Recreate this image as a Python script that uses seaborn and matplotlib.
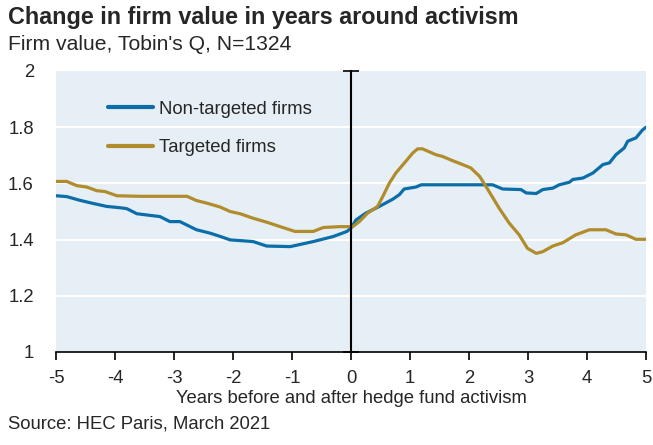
import numpy as np
import pandas as pd
import seaborn as sns
import matplotlib
matplotlib.use("Agg")
import matplotlib.pyplot as plt

# Tobin's Q around the activism event (year 0)
nontargeted_years = [-5.0, -4.82, -4.6, -4.4, -4.14, -3.9, -3.80, -3.63, -3.4, -3.24, -3.07,
                     -2.90, -2.62, -2.39, -2.2, -2.05, -1.66, -1.43, -1.03, -0.64, -0.30,
                     -0.07, 0.0, 0.085, 0.25, 0.48, 0.71, 0.82, 0.90, 1.10, 1.19, 1.5, 2.0,
                     2.40, 2.57, 2.88, 2.97, 3.14, 3.25, 3.42, 3.53, 3.70, 3.76, 3.93, 4.10,
                     4.27, 4.38, 4.49, 4.63, 4.69, 4.83, 4.94, 5.0]
nontargeted_q = [1.556, 1.553, 1.540, 1.530, 1.518, 1.513, 1.510, 1.492, 1.486, 1.482, 1.464,
                 1.464, 1.435, 1.423, 1.410, 1.399, 1.393, 1.377, 1.375, 1.393, 1.411,
                 1.429, 1.441, 1.470, 1.494, 1.518, 1.544, 1.560, 1.580, 1.587, 1.595, 1.595, 1.595,
                 1.595, 1.580, 1.578, 1.566, 1.564, 1.578, 1.583, 1.595, 1.604, 1.614, 1.619, 1.637,
                 1.667, 1.673, 1.702, 1.726, 1.750, 1.762, 1.790, 1.800]

targeted_years = [-5.0, -4.82, -4.65, -4.48, -4.31, -4.17, -3.97, -3.58, -2.78, -2.62, -2.45,
                  -2.22, -2.05, -1.88, -1.66, -1.43, -1.20, -0.95, -0.64, -0.47, -0.19, 0.03,
                  0.14, 0.28, 0.45, 0.54, 0.65, 0.76, 0.93, 1.05, 1.13, 1.21, 1.44, 1.55, 1.72,
                  1.89, 2.03, 2.18, 2.34, 2.51, 2.68, 2.85, 2.99, 3.14, 3.25, 3.42, 3.59, 3.81,
                  4.04, 4.32, 4.49, 4.66, 4.83, 5.0]
targeted_q = [1.607, 1.607, 1.592, 1.587, 1.574, 1.571, 1.556, 1.554, 1.554, 1.539, 1.530,
              1.516, 1.500, 1.492, 1.476, 1.462, 1.446, 1.429, 1.429, 1.443, 1.446, 1.446,
              1.464, 1.494, 1.518, 1.554, 1.601, 1.637, 1.679, 1.709, 1.723, 1.723, 1.702, 1.696, 1.681,
              1.667, 1.655, 1.625, 1.571, 1.512, 1.459, 1.417, 1.369, 1.351, 1.357, 1.377, 1.389, 1.417,
              1.435, 1.435, 1.420, 1.417, 1.401, 1.401]

series_names = ["Non-targeted firms", "Targeted firms"]
series_colors = ["#0B6EA8", "#B08C2C"]
x_ticks = [-5, -4, -3, -2, -1, 0, 1, 2, 3, 4, 5]
y_ticks = [1, 1.2, 1.4, 1.6, 1.8, 2]
y_tick_labels = ["1", "1.2", "1.4", "1.6", "1.8", "2"]

df = pd.concat([
    pd.DataFrame({"year": nontargeted_years, "q": nontargeted_q, "group": series_names[0]}),
    pd.DataFrame({"year": targeted_years, "q": targeted_q, "group": series_names[1]}),
])

sns.set_theme(style="white")
plt.rcParams["font.family"] = ["Liberation Sans", "DejaVu Sans"]

fig = plt.figure(figsize=(6.53, 4.45), dpi=100)
ax = fig.add_axes([0.0858, 0.209, 0.9035, 0.6315])
ax.set_facecolor("#E6EFF5")

sns.lineplot(data=df, x="year", y="q", hue="group", hue_order=series_names,
             palette=series_colors, linewidth=2.3, sort=False, estimator=None,
             ax=ax, zorder=3)

ax.set_xlim(-5, 5)
ax.set_ylim(1, 2)
ax.set_xticks(x_ticks)
ax.set_xticklabels([str(t) for t in x_ticks], fontsize=13.3)
ax.set_yticks(y_ticks)

for yv in y_ticks[1:-1]:
    ax.axhline(yv, color="white", linewidth=1.6, zorder=1)

# Vertical axis runs through year 0 with ticks crossing it
ax.spines["left"].set_position(("data", 0))
ax.spines["left"].set_color("black")
ax.spines["left"].set_linewidth(1.5)
ax.spines["left"].set_zorder(4)
ax.tick_params(axis="y", direction="inout", length=11, width=1.2, color="black",
               labelleft=False, left=True)
for side in ["right", "top"]:
    ax.spines[side].set_visible(False)
ax.spines["bottom"].set_color("black")
ax.spines["bottom"].set_linewidth(1.2)
ax.tick_params(axis="x", direction="out", length=6, width=1.2, color="black",
               pad=7, bottom=True)

# Value labels sit at the left edge of the plotting area
lab = ax.secondary_yaxis(0.0)
lab.set_yticks(y_ticks)
lab.set_yticklabels(y_tick_labels, fontsize=13.3)
lab.tick_params(axis="y", length=0, pad=16)
lab.spines["left"].set_visible(False)
lab.spines["right"].set_visible(False)

ax.set_xlabel("Years before and after hedge fund activism", fontsize=13.3, labelpad=2)
ax.set_ylabel("")

leg = ax.legend(loc="upper left", bbox_to_anchor=(0.075, 0.92), frameon=False,
                fontsize=13.3, handlelength=2.45, handletextpad=0.35, labelspacing=1.15,
                borderaxespad=0.0)
for line in leg.get_lines():
    line.set_linewidth(3)

fig.text(0.012, 0.960, "Change in firm value in years around activism",
         fontsize=16.8, fontweight="bold", ha="left", va="center")
fig.text(0.012, 0.900, "Firm value, Tobin's Q, N=1324", fontsize=15.2,
         ha="left", va="center")
fig.text(0.012, 0.047, "Source: HEC Paris, March 2021", fontsize=13.3,
         ha="left", va="center")

fig.savefig("out.png", dpi=100)
